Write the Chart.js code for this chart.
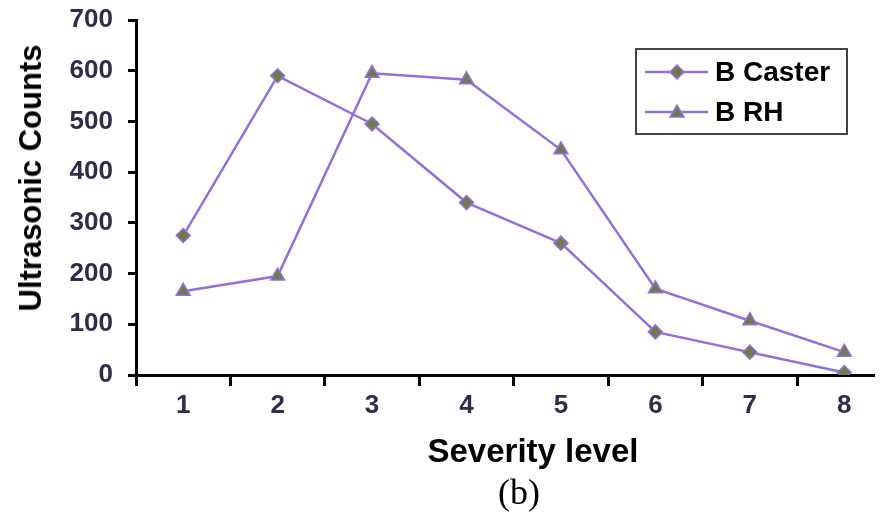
<!DOCTYPE html>
<html>
<head>
<meta charset="utf-8">
<script src="https://cdn.jsdelivr.net/npm/chart.js@4/dist/chart.umd.min.js"></script>
<style>
  html, body { margin: 0; padding: 0; background: #fff; }
  #wrap { position: relative; width: 884px; height: 512px; }
  .lbl { position: absolute; font-family: "Liberation Sans", Arial, sans-serif; font-weight: bold; color: #000; white-space: nowrap; transform: translate(-50%, -50%); }
  #ytitle { left: 31px; top: 178px; font-size: 31px; transform: translate(-50%, -50%) rotate(-90deg); }
  #xtitle { left: 533px; top: 451px; font-size: 33px; }
  #sub { left: 519px; top: 492px; font-size: 36px; font-family: "Liberation Serif", "Times New Roman", serif; font-weight: normal; }
</style>
</head>
<body>
<div id="wrap">
  <canvas id="chart" width="884" height="512"></canvas>
  <div class="lbl" id="ytitle">Ultrasonic Counts</div>
  <div class="lbl" id="xtitle">Severity level</div>
  <div class="lbl" id="sub">(b)</div>
</div>
<script>
// data
var levels = [1, 2, 3, 4, 5, 6, 7, 8];
var casterCounts = [275, 590, 495, 340, 260, 85, 45, 5];
var rhCounts = [165, 195, 595, 582, 444, 170, 107, 45];
var seriesNames = ["B Caster", "B RH"];
// x ticks: labels on the levels, tick marks between them
var xTickValues = [0.5, 1, 1.5, 2, 2.5, 3, 3.5, 4, 4.5, 5, 5.5, 6, 6.5, 7, 7.5, 8];

var lineColor = "#9370db";
var markerFill = "#6f7b4c";
var tickText = "#2f2d4a";

function toPoints(vals) {
    return levels.map(function (lv, i) { return { x: lv, y: vals[i] }; });
}

/* ==============================
   LEGEND (boxed, inside plot)
============================== */
var boxLegend = {
    id: "boxLegend",
    afterDraw: function (chart) {
        var ctx = chart.ctx;
        var styles = ["rectRot", "triangle"];
        var radii = [7, 8];
        ctx.save();
        ctx.strokeStyle = "#444";
        ctx.lineWidth = 2;
        ctx.strokeRect(636, 49, 211, 85);
        [72, 112].forEach(function (y, i) {
            ctx.strokeStyle = lineColor;
            ctx.lineWidth = 2.5;
            ctx.beginPath();
            ctx.moveTo(645, y);
            ctx.lineTo(708, y);
            ctx.stroke();
            ctx.fillStyle = markerFill;
            ctx.strokeStyle = lineColor;
            ctx.lineWidth = 1.5;
            Chart.helpers.drawPoint(ctx, { pointStyle: styles[i], radius: radii[i], rotation: 0, borderWidth: 1.5 }, 677, y + (i === 1 ? 1 : 0));
            ctx.fillStyle = "#000";
            ctx.font = "bold 28px 'Liberation Sans', Arial, sans-serif";
            ctx.textBaseline = "middle";
            ctx.textAlign = "left";
            ctx.fillText(seriesNames[i], 715, y + 1);
        });
        ctx.restore();
    }
};

function isLevel(v) {
    return Math.abs(v - Math.round(v)) < 1e-6;
}

new Chart(document.getElementById("chart"), {
    type: "line",
    data: {
        datasets: [{
                label: seriesNames[0],
                data: toPoints(casterCounts),
                borderColor: lineColor,
                borderWidth: 2.5,
                backgroundColor: markerFill,
                pointStyle: "rectRot",
                pointRadius: 7,
                pointBorderColor: lineColor,
                pointBorderWidth: 1.5,
                pointBackgroundColor: markerFill,
                tension: 0
            }, {
                label: seriesNames[1],
                data: toPoints(rhCounts),
                borderColor: lineColor,
                borderWidth: 2.5,
                backgroundColor: markerFill,
                pointStyle: "triangle",
                pointRadius: 8,
                pointBorderColor: lineColor,
                pointBorderWidth: 1.5,
                pointBackgroundColor: markerFill,
                tension: 0
            }]
    },
    options: {
        responsive: false,
        animation: false,
        layout: { padding: { top: 20, right: 0, left: 0, bottom: 0 } },
        plugins: {
            legend: { display: false },
            tooltip: { enabled: false }
        },
        scales: {
            x: {
                type: "linear",
                min: 0.5,
                max: 8.32,
                afterBuildTicks: function (s) {
                    s.ticks = xTickValues.map(function (v) { return { value: v }; });
                },
                afterFit: function (s) {
                    s.height = 137;
                    s.paddingLeft = 0;
                    s.paddingRight = 0;
                },
                border: { color: "#000", width: 3 },
                grid: {
                    drawOnChartArea: false,
                    drawTicks: true,
                    tickLength: 11,
                    tickWidth: 3,
                    tickColor: function (c) {
                        return c.tick && !isLevel(c.tick.value) ? "#000" : "rgba(0,0,0,0)";
                    }
                },
                ticks: {
                    autoSkip: false,
                    maxRotation: 0,
                    padding: 4,
                    color: tickText,
                    font: { family: "'Liberation Sans', Arial, sans-serif", size: 26, weight: "bold" },
                    callback: function (v) { return isLevel(v) ? String(Math.round(v)) : ""; }
                }
            },
            y: {
                min: 0,
                max: 700,
                afterFit: function (s) {
                    s.width = 136;
                    s.paddingTop = 0;
                    s.paddingBottom = 0;
                },
                border: { color: "#000", width: 3 },
                grid: {
                    drawOnChartArea: false,
                    drawTicks: true,
                    tickLength: 8,
                    tickWidth: 3,
                    tickColor: "#000"
                },
                ticks: {
                    stepSize: 100,
                    padding: 15,
                    color: tickText,
                    font: { family: "'Liberation Sans', Arial, sans-serif", size: 26, weight: "bold" }
                }
            }
        }
    },
    plugins: [boxLegend]
});
</script>
</body>
</html>
